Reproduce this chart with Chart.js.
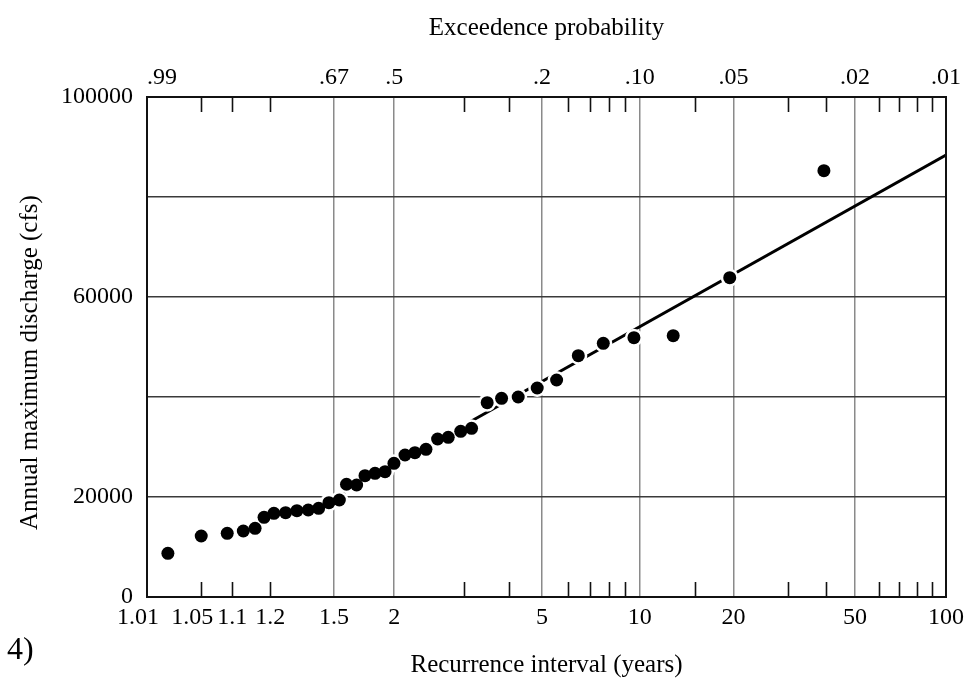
<!DOCTYPE html>
<html>
<head>
<meta charset="utf-8">
<script src="https://cdn.jsdelivr.net/npm/chart.js@4.4.0/dist/chart.umd.min.js"></script>
<style>
  body { margin: 0; background: #fff; }
  #wrap { position: relative; width: 967px; height: 678px; }
  #tag { position: absolute; left: 7px; top: 630px; font: 32px "Liberation Serif", serif; color: #000; }
</style>
</head>
<body>
<div id="wrap">
  <canvas id="mycanvas" width="967" height="678"></canvas>
  <div id="tag">4)</div>
</div>
<script>
// recurrence interval (years) and annual max discharge (cfs)
var recurrence = [1.020, 1.050, 1.090, 1.124, 1.154, 1.180, 1.212, 1.255, 1.302, 1.355,
                  1.409, 1.468, 1.534, 1.583, 1.658, 1.725, 1.812, 1.907, 1.998, 2.121,
                  2.241, 2.387, 2.555, 2.723, 2.939, 3.145, 3.474, 3.815, 4.259, 4.843,
                  5.534, 6.44, 7.69, 9.59, 12.78, 19.44, 39.5];
var discharge = [8740, 12200, 12740, 13200, 13740, 15940, 16740, 16860, 17260, 17400,
                 17740, 18860, 19400, 22550, 22400, 24260, 24740, 25060, 26740, 28400,
                 28860, 29540, 31600, 31940, 33140, 33740, 38860, 39740, 40000, 41800,
                 43400, 48260, 50740, 51860, 52260, 63860, 85260];

// fitted line end points
var lineT = [1.5, 100];
var lineQ = [19800, 88400];

var bottomTicks = [1.01, 1.05, 1.1, 1.2, 1.5, 2, 5, 10, 20, 50, 100];
var bottomLabels = ['1.01   ', '1.05   ', '1.1', '1.2', '1.5', '2', '5', '10', '20', '50', '100'];
var topTicks = [1.01, 1.5, 2, 5, 10, 20, 50, 100];
var topLabels = ['     .99', '.67', '.5', '.2', '.10', '.05', '.02', '.01'];
var gridT = [1.5, 2, 5, 10, 20, 50];
var minorT = [1.05, 1.1, 1.2, 3, 4, 6, 7, 8, 9, 15, 30, 40, 60, 70, 80, 90];
var yTicks = [0, 20000, 40000, 60000, 80000, 100000];
var yLabels = ['0', '20000', '', '60000', '', '100000'];

// Gumbel reduced variate for a recurrence interval
function g(T) {
    return -Math.log(-Math.log(1 - 1 / T));
}

var serif = '"Liberation Serif", "Times New Roman", serif';

var points = [];
for (var i in recurrence) {
    points.push({x: g(recurrence[i]), y: discharge[i]});
}
var line = [];
for (var j in lineT) {
    line.push({x: g(lineT[j]), y: lineQ[j]});
}

var frame = {
    id: 'frame',
    afterDraw: function(chart) {
        var c = chart.ctx, a = chart.chartArea, xs = chart.scales.x;
        c.save();
        c.strokeStyle = '#111';
        c.lineWidth = 1.6;
        minorT.forEach(function(t) {
            var px = Math.round(xs.getPixelForValue(g(t))) + 0.5;
            c.beginPath();
            c.moveTo(px, a.top);
            c.lineTo(px, a.top + 15);
            c.moveTo(px, a.bottom);
            c.lineTo(px, a.bottom - 15);
            c.stroke();
        });
        c.lineWidth = 2;
        c.strokeRect(a.left, a.top, a.right - a.left, a.bottom - a.top);
        c.restore();
    }
};

function fitX(h) {
    return function(scale) {
        scale.height = h;
        scale.paddingLeft = 0;
        scale.paddingRight = 0;
    };
}

var ctx = document.getElementById('mycanvas');
var chart = new Chart(ctx, {
    type: 'scatter',
    data: {
        datasets: [{
            data: points,
            backgroundColor: '#000',
            borderWidth: 0,
            pointRadius: 6.5,
            order: 1
        }, {
            data: points,
            backgroundColor: '#fff',
            borderWidth: 0,
            pointRadius: 9,
            order: 2
        }, {
            data: line,
            showLine: true,
            borderColor: '#000',
            borderWidth: 3,
            pointRadius: 0,
            order: 3
        }]
    },
    options: {
        responsive: false,
        animation: false,
        layout: {padding: {left: 0, right: 21, top: 0, bottom: 0}},
        plugins: {legend: {display: false}, tooltip: {enabled: false}},
        scales: {
            x: {
                type: 'linear',
                position: 'bottom',
                min: g(1.01),
                max: g(100),
                afterBuildTicks: function(scale) {
                    scale.ticks = bottomTicks.map(function(t) { return {value: g(t)}; });
                },
                afterFit: fitX(81),
                ticks: {
                    autoSkip: false,
                    maxRotation: 0,
                    padding: 6,
                    color: '#000',
                    font: {family: serif, size: 24},
                    callback: function(v, idx) { return bottomLabels[idx]; }
                },
                grid: {
                    drawTicks: false,
                    lineWidth: 1.5,
                    color: function(c) {
                        return gridT.indexOf(bottomTicks[c.index]) >= 0 ? '#8a8a8a' : 'rgba(0,0,0,0)';
                    }
                },
                border: {display: false},
                title: {
                    display: true,
                    text: 'Recurrence interval (years)',
                    color: '#000',
                    font: {family: serif, size: 25},
                    padding: {top: 0, bottom: -2}
                }
            },
            x2: {
                type: 'linear',
                position: 'top',
                min: g(1.01),
                max: g(100),
                afterBuildTicks: function(scale) {
                    scale.ticks = topTicks.map(function(t) { return {value: g(t)}; });
                },
                afterFit: fitX(97),
                ticks: {
                    autoSkip: false,
                    maxRotation: 0,
                    padding: 5,
                    color: '#000',
                    font: {family: serif, size: 24},
                    callback: function(v, idx) { return topLabels[idx]; }
                },
                grid: {drawTicks: false, drawOnChartArea: false},
                border: {display: false},
                title: {
                    display: true,
                    text: 'Exceedence probability',
                    color: '#000',
                    font: {family: serif, size: 25},
                    padding: {top: 13, bottom: 0}
                }
            },
            y: {
                type: 'linear',
                min: 0,
                max: 100000,
                afterBuildTicks: function(scale) {
                    scale.ticks = yTicks.map(function(v) { return {value: v}; });
                },
                afterFit: function(scale) { scale.width = 147; },
                ticks: {
                    padding: 14,
                    color: '#000',
                    font: {family: serif, size: 24},
                    callback: function(v, idx) { return yLabels[idx]; }
                },
                grid: {drawTicks: false, lineWidth: 1.5, color: '#3a3a3a'},
                border: {display: false},
                title: {
                    display: true,
                    text: 'Annual maximum discharge (cfs)     ',
                    color: '#000',
                    font: {family: serif, size: 25},
                    padding: {top: 15, bottom: 0}
                }
            }
        }
    },
    plugins: [frame]
});
</script>
</body>
</html>
